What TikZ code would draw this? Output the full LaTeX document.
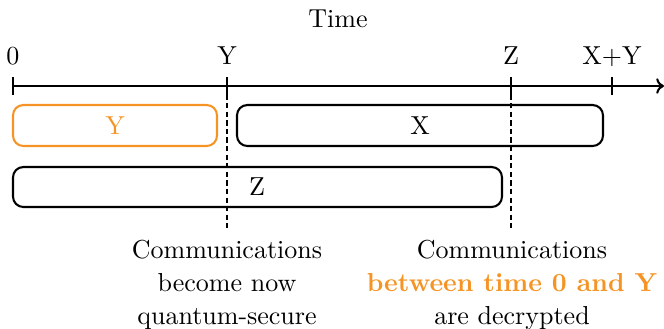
\documentclass[tikz,border=0pt]{standalone}
\usetikzlibrary{arrows.meta}
\definecolor{accent}{RGB}{245,148,36}
\begin{document}
\begin{tikzpicture}[x=0.3846pt,y=-0.3846pt,
  span/.style={draw,thick,rounded corners=4pt,inner sep=0pt},
  ticklbl/.style={anchor=base,inner sep=0pt},
  marker/.style={thick,dash pattern=on 2pt off 1.3pt},
  note/.style={align=center,inner sep=0pt,font={\linespread{1.05}\selectfont}}]
\useasboundingbox (0,0) rectangle (664,328);

% time axis
\coordinate (a0) at (13,86);
\coordinate (aend) at (664,86);
\draw[thick,-{To[length=3pt,width=6pt]}] (a0) -- (aend);
\node[inner sep=0pt] (time) at (338,19) {Time};

% ticks and labels
\coordinate (tY) at (227,86);
\coordinate (tZ) at (511,86);
\coordinate (tXY) at (612,86);
\foreach \c in {a0,tY,tZ,tXY}
  \draw ([yshift=-3.5pt]\c) -- ([yshift=3.5pt]\c);
\node[ticklbl] (l0) at (13,64) {0};
\node[ticklbl] (lY) at (227,64) {Y};
\node[ticklbl] (lZ) at (511,64) {Z};
\node[ticklbl] (lXY) at (612,64) {X+Y};

% durations
\draw[span,accent] (13,105) rectangle (217,146);
\node[accent,inner sep=0pt] (bY) at (115,126) {Y};
\draw[span] (237,105) rectangle (603,146);
\node[inner sep=0pt] (bX) at (420,126) {X};
\draw[span] (13,167) rectangle (502,207);
\node[inner sep=0pt] (bZ) at (257,187) {Z};

% event markers
\coordinate (eY) at (227,229);
\coordinate (eZ) at (511,229);
\draw[marker] (tY) -- (eY);
\draw[marker] (tZ) -- (eZ);

% captions
\node[note,anchor=north] (cY) at (227,240) {Communications\\become now\\quantum-secure};
\node[note,anchor=north] (cZ) at (512,240) {Communications\\{\color{accent}\bfseries between time 0 and Y}\\are decrypted};
\end{tikzpicture}
\end{document}
